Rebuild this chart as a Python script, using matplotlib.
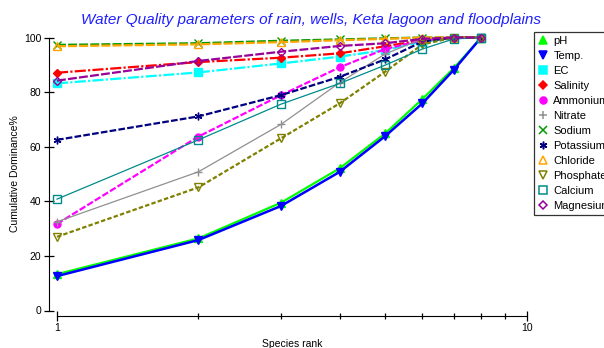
import matplotlib
matplotlib.use("Agg")
import matplotlib.pyplot as plt
from matplotlib.lines import Line2D
from matplotlib.ticker import FixedLocator, NullFormatter

plt.rcParams['font.family'] = ['Liberation Sans', 'DejaVu Sans']

rank = [1, 2, 3, 4, 5, 6, 7, 8]

ph = [13.3, 26.4, 39.5, 52.1, 64.9, 77.5, 88.8, 100]
temp = [12.6, 25.8, 38.3, 50.8, 63.9, 75.9, 88.2, 100]
ec = [83.2, 87.2, 90.5, 93.0, 95.4, 98.5, 99.7, 100]
salinity = [87.1, 91.0, 92.6, 94.2, 96.8, 99.0, 100, 100]
ammonium = [31.7, 63.7, 78.9, 89.1, 95.8, 99.0, 100, 100]
nitrate = [32.5, 50.8, 68.2, 83.5, 94.0, 99.5, 100, 100]
sodium = [97.3, 97.9, 98.8, 99.3, 99.7, 100, 100, 100]
potassium = [62.5, 71.1, 78.9, 85.6, 92.0, 98.5, 100, 100]
chloride = [96.8, 97.5, 98.3, 99.0, 99.5, 100, 100, 100]
phosphates = [27.0, 45.1, 63.1, 75.9, 87.5, 97.5, 100, 100]
calcium = [40.8, 62.5, 75.6, 83.2, 89.9, 95.8, 99.5, 100]
magnesium = [84.2, 91.4, 94.8, 96.9, 97.9, 99.5, 100, 100]

names = ['pH', 'Temp.', 'EC', 'Salinity', 'Ammonium', 'Nitrate', 'Sodium',
         'Potassium', 'Chloride', 'Phosphates', 'Calcium', 'Magnesium']
values = [ph, temp, ec, salinity, ammonium, nitrate, sodium, potassium,
          chloride, phosphates, calcium, magnesium]

ast = (6, 2, 0)
# color, marker, filled, linestyle, linewidth
styles = [
    ('#00ff00', '^', True, '-', 1.6),
    ('#0000ff', 'v', True, '-', 1.8),
    ('#00ffff', 's', True, (0, (5, 1, 1, 1)), 1.6),
    ('#ff0000', 'D', True, (0, (5, 1, 1, 1)), 1.6),
    ('#ff00ff', 'o', True, (0, (3, 1)), 1.6),
    ('#909090', '+', True, '-', 0.9),
    ('#009900', 'x', True, (0, (4, 1)), 1.6),
    ('#000080', ast, True, (0, (3, 1)), 1.6),
    ('#ffa500', '^', False, (0, (4, 1)), 1.6),
    ('#808000', 'v', False, (0, (2, 1)), 1.6),
    ('#008b8b', 's', False, '-', 0.9),
    ('#990099', 'D', False, (0, (4, 1)), 1.6),
]

fig = plt.figure(figsize=(6.04, 3.48), dpi=100)
ax = fig.add_axes([57 / 604, 1 - 310.5 / 348, 469.7 / 604, 273 / 348])

handles = []
for name, v, (c, m, filled, ls, lw) in zip(names, values, styles):
    fc = c if filled else 'none'
    ms = 5.5
    if m == 'D':
        ms = 4.5
    if m == 'o':
        ms = 5
    ax.plot(rank, v, color=c, linestyle=ls, linewidth=lw, marker=m,
            markersize=ms, markerfacecolor=fc, markeredgecolor=c,
            markeredgewidth=1.0, clip_on=False)
    handles.append(Line2D([], [], color=c, linestyle='None', marker=m,
                          markersize=ms, markerfacecolor=fc,
                          markeredgecolor=c, markeredgewidth=1.1))

ax.set_xscale('log')
ax.set_xlim(1, 10)
ax.set_ylim(0, 100)

for s in ['top', 'right']:
    ax.spines[s].set_visible(False)
ax.spines['left'].set_position(('outward', 5.8))
ax.spines['bottom'].set_position(('outward', 3.7))
ax.spines['left'].set_bounds(0, 100)
ax.spines['bottom'].set_bounds(1, 10)

ax.xaxis.set_major_locator(FixedLocator([1, 10]))
ax.xaxis.set_minor_locator(FixedLocator([2, 3, 4, 5, 6, 7, 8, 9]))
ax.xaxis.set_minor_formatter(NullFormatter())
ax.set_xticklabels(['1', '10'])
ax.set_yticks([0, 20, 40, 60, 80, 100])
ax.tick_params(axis='both', which='major', direction='inout', length=7,
               width=0.9, labelsize=7.5, pad=2)
ax.tick_params(axis='x', which='minor', direction='inout', length=4, width=0.9)

ax.set_ylabel('Cumulative Dominance%', fontsize=7.5, labelpad=3)
ax.set_xlabel('Species rank', fontsize=7.5, labelpad=4)

fig.text(311 / 604, 1 - 20 / 348, 'Water Quality parameters of rain, wells, Keta lagoon and floodplains',
         ha='center', va='center', fontsize=11, style='italic', color='#2020ff')

leg = fig.legend(handles, names, loc='upper left',
                 bbox_to_anchor=(534 / 604, 1 - 32 / 348), fontsize=8,
                 frameon=True, fancybox=False, edgecolor='black',
                 handlelength=1.0, handletextpad=0.4, borderpad=0.35,
                 labelspacing=0.45, borderaxespad=0)
leg.get_frame().set_linewidth(0.9)

fig.savefig('out.png', dpi=100)
